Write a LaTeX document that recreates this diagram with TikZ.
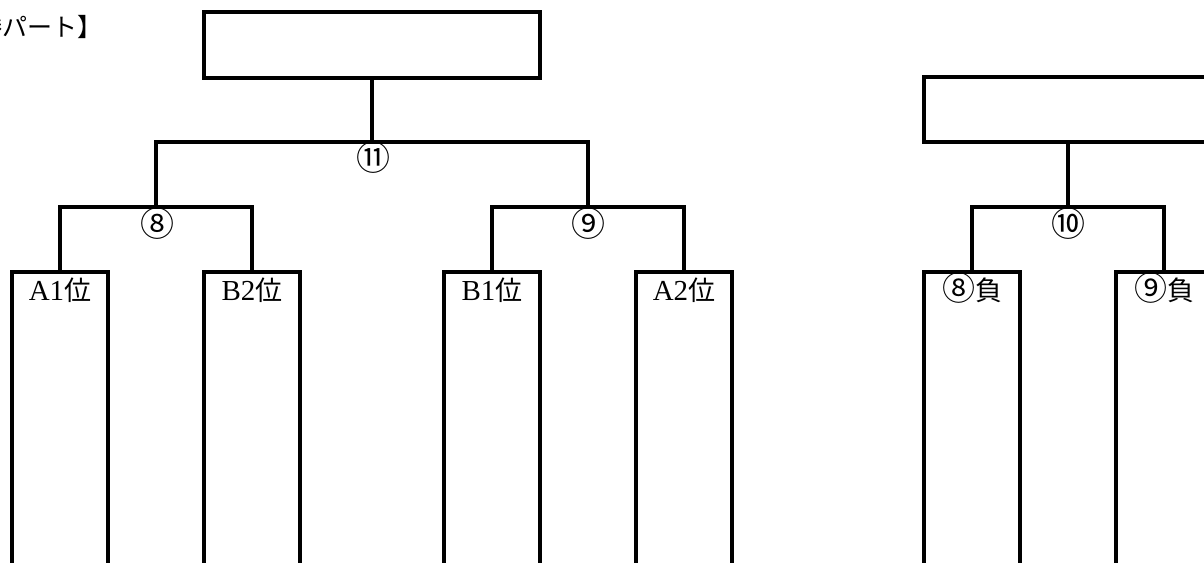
\documentclass[tikz,border=0pt]{standalone}
\usepackage{fontspec}
\setmainfont{Liberation Serif}
\newfontfamily\jp{Noto Sans CJK JP}
\begin{document}
\begin{tikzpicture}[x=1pt,y=-1pt,
  line width=3.2pt, line join=miter,
  boxbig/.style={draw, rectangle, inner sep=0pt, outer sep=0pt},
  slot/.style={draw, rectangle, inner sep=0pt, outer sep=0pt, minimum width=96pt, minimum height=330pt, anchor=north},
  lbl/.style={anchor=base, inner sep=0pt, font=\fontsize{29}{33}\selectfont},
  num/.style={anchor=center, inner sep=0pt, font=\jp\fontsize{34}{38}\selectfont}]
\useasboundingbox (0,0) rectangle (1204,562);
\clip (0,0) rectangle (1204,562);
% title
\node[anchor=east, inner sep=0pt, font=\jp\fontsize{25}{29}\selectfont] (title) at (104,27) {【決勝パート】};
% top boxes
\node[boxbig, minimum width=336pt, minimum height=66pt] (top) at (372,45) {};
\node[boxbig, minimum width=288pt, minimum height=65pt] (topr) at (1068,109.5) {};
% junctions
\coordinate (m11) at (372,142);
\coordinate (m8) at (156,207);
\coordinate (m9) at (588,207);
\coordinate (m10) at (1068,207);
% slots
\node[slot] (a1) at (60,272) {};
\node[slot] (b2) at (252,272) {};
\node[slot] (b1) at (492,272) {};
\node[slot] (a2) at (684,272) {};
\node[slot] (l8) at (972,272) {};
\node[slot] (l9) at (1164,272) {};
% labels
\node[lbl] (ta1) at (60,300) {A1{\jp\fontsize{27}{31}\selectfont 位}};
\node[lbl] (tb2) at (252,300) {B2{\jp\fontsize{27}{31}\selectfont 位}};
\node[lbl] (tb1) at (492,300) {B1{\jp\fontsize{27}{31}\selectfont 位}};
\node[lbl] (ta2) at (684,300) {A2{\jp\fontsize{27}{31}\selectfont 位}};
\node[lbl, font=\jp\fontsize{27}{31}\selectfont] (tl8) at (972,300) {{\fontsize{33}{37}\selectfont ⑧}負};
\node[lbl, font=\jp\fontsize{27}{31}\selectfont] (tl9) at (1164,300) {{\fontsize{33}{37}\selectfont ⑨}負};
% connectors
\draw (top.south) -- (m11);
\draw (m8) |- (m11) -| (m9);
\draw (a1.north) |- (m8) -| (b2.north);
\draw (b1.north) |- (m9) -| (a2.north);
\draw (topr.south) -- (m10);
\draw (l8.north) |- (m10) -| (l9.north);
% circled numbers
\node[num] (n11) at (373,158) {⑪};
\node[num] (n8) at (157,223.5) {⑧};
\node[num] (n9) at (588,223.5) {⑨};
\node[num] (n10) at (1068,223.5) {⑩};
\end{tikzpicture}
\end{document}
